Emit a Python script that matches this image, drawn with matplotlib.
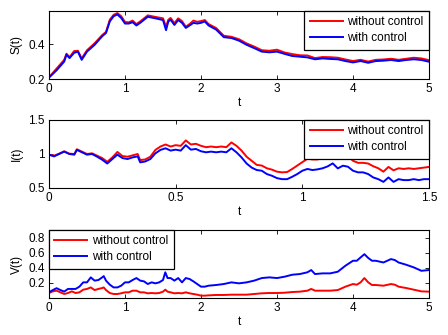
import matplotlib
matplotlib.use("Agg")
import matplotlib.pyplot as plt

plt.rcParams['font.family'] = ['Liberation Sans', 'DejaVu Sans']

# ---- S(t) panel data ----
t_S = [0, 0.1, 0.2, 0.23, 0.27, 0.33, 0.38, 0.43, 0.5, 0.6, 0.7, 0.75, 0.8, 0.85, 0.9, 0.95,
       1.0, 1.05, 1.1, 1.15, 1.2, 1.3, 1.4, 1.5, 1.54, 1.57, 1.6, 1.65, 1.7, 1.75, 1.8, 1.85,
       1.9, 1.95, 2.0, 2.05, 2.1, 2.2, 2.3, 2.4, 2.5, 2.6, 2.7, 2.8, 2.9, 3.0, 3.1, 3.2, 3.3,
       3.4, 3.5, 3.6, 3.7, 3.8, 3.9, 4.0, 4.1, 4.2, 4.3, 4.4, 4.5, 4.6, 4.7, 4.8, 4.9, 5.0]
S_with = [0.208, 0.25, 0.30, 0.34, 0.32, 0.35, 0.357, 0.31, 0.357, 0.396, 0.445, 0.464, 0.53,
          0.56, 0.57, 0.55, 0.518, 0.518, 0.526, 0.507, 0.522, 0.557, 0.548, 0.538, 0.48, 0.53,
          0.54, 0.51, 0.538, 0.522, 0.493, 0.507, 0.522, 0.518, 0.522, 0.53, 0.507, 0.483, 0.44,
          0.435, 0.42, 0.396, 0.377, 0.357, 0.353, 0.357, 0.344, 0.332, 0.328, 0.324, 0.313,
          0.318, 0.315, 0.313, 0.303, 0.295, 0.303, 0.293, 0.303, 0.305, 0.309, 0.303, 0.309,
          0.313, 0.309, 0.299]
S_without = [0.21, 0.26, 0.31, 0.345, 0.325, 0.36, 0.362, 0.318, 0.365, 0.405, 0.452, 0.47, 0.54,
             0.568, 0.578, 0.56, 0.527, 0.525, 0.535, 0.515, 0.53, 0.565, 0.556, 0.548, 0.5, 0.54,
             0.55, 0.52, 0.548, 0.532, 0.5, 0.515, 0.535, 0.528, 0.532, 0.538, 0.515, 0.492, 0.448,
             0.442, 0.428, 0.404, 0.386, 0.365, 0.362, 0.368, 0.352, 0.343, 0.336, 0.335, 0.32,
             0.326, 0.325, 0.322, 0.312, 0.303, 0.31, 0.3, 0.31, 0.312, 0.316, 0.31, 0.316,
             0.322, 0.318, 0.308]

# ---- I(t) panel data ----
t_I = [0, 0.02, 0.04, 0.06, 0.08, 0.1, 0.11, 0.13, 0.15, 0.17, 0.19, 0.21, 0.23, 0.25, 0.27,
       0.29, 0.31, 0.33, 0.35, 0.36, 0.38, 0.40, 0.42, 0.44, 0.46, 0.48, 0.50, 0.52, 0.54, 0.56,
       0.58, 0.60, 0.62, 0.64, 0.66, 0.68, 0.70, 0.72, 0.74, 0.76, 0.78, 0.80, 0.82, 0.84, 0.86,
       0.88, 0.90, 0.92, 0.94, 0.96, 0.98, 1.00, 1.02, 1.04, 1.06, 1.08, 1.10, 1.12, 1.14, 1.16,
       1.18, 1.20, 1.22, 1.24, 1.26, 1.28, 1.30, 1.32, 1.34, 1.36, 1.38, 1.40, 1.42, 1.44, 1.46,
       1.48, 1.50]
I_with = [0.99, 0.965, 1.0, 1.035, 1.0, 0.99, 1.06, 1.025, 0.99, 1.0, 0.96, 0.916, 0.86, 0.926,
          0.99, 0.94, 0.926, 0.95, 0.965, 0.877, 0.89, 0.926, 1.01, 1.06, 1.084, 1.05, 1.064,
          1.05, 1.13, 1.064, 1.074, 1.04, 1.025, 1.035, 1.025, 1.035, 1.025, 1.084, 1.025, 0.95,
          0.86, 0.80, 0.764, 0.754, 0.705, 0.68, 0.645, 0.63, 0.63, 0.665, 0.705, 0.754, 0.78,
          0.764, 0.774, 0.79, 0.818, 0.862, 0.788, 0.828, 0.813, 0.754, 0.73, 0.73, 0.705, 0.655,
          0.63, 0.59, 0.655, 0.59, 0.63, 0.616, 0.616, 0.63, 0.616, 0.63, 0.63]
I_without = [0.99, 0.975, 1.005, 1.04, 1.005, 1.0, 1.07, 1.035, 1.0, 1.01, 0.975, 0.94, 0.885,
             0.95, 1.03, 0.97, 0.96, 0.98, 1.0, 0.91, 0.92, 0.96, 1.06, 1.11, 1.14, 1.11, 1.13,
             1.12, 1.2, 1.14, 1.15, 1.12, 1.1, 1.11, 1.1, 1.11, 1.1, 1.17, 1.12, 1.05, 0.96, 0.9,
             0.84, 0.83, 0.79, 0.77, 0.74, 0.73, 0.735, 0.78, 0.83, 0.88, 0.93, 0.92, 0.92, 0.94,
             0.97, 1.0, 0.95, 0.99, 0.97, 0.9, 0.87, 0.87, 0.86, 0.82, 0.79, 0.74, 0.81, 0.76,
             0.79, 0.78, 0.79, 0.78, 0.79, 0.8, 0.81]

# ---- V(t) panel data ----
t_V = [0, 0.05, 0.1, 0.15, 0.2, 0.25, 0.3, 0.35, 0.4, 0.45, 0.5, 0.55, 0.6, 0.65, 0.7, 0.72,
       0.75, 0.8, 0.85, 0.9, 0.95, 1.0, 1.05, 1.1, 1.15, 1.2, 1.25, 1.3, 1.35, 1.4, 1.45, 1.5,
       1.53, 1.56, 1.6, 1.65, 1.7, 1.75, 1.8, 1.85, 1.9, 1.95, 2.0, 2.05, 2.1, 2.2, 2.3, 2.4,
       2.5, 2.6, 2.7, 2.8, 2.9, 3.0, 3.1, 3.2, 3.3, 3.4, 3.45, 3.5, 3.6, 3.7, 3.8, 3.9, 4.0,
       4.05, 4.1, 4.15, 4.2, 4.25, 4.3, 4.4, 4.5, 4.55, 4.6, 4.7, 4.8, 4.9, 5.0]
V_with = [0.075, 0.105, 0.13, 0.105, 0.085, 0.12, 0.12, 0.12, 0.15, 0.207, 0.207, 0.273, 0.23,
          0.238, 0.273, 0.29, 0.23, 0.176, 0.14, 0.14, 0.163, 0.207, 0.207, 0.238, 0.264, 0.23,
          0.22, 0.185, 0.207, 0.194, 0.207, 0.238, 0.34, 0.264, 0.264, 0.23, 0.264, 0.207,
          0.264, 0.251, 0.22, 0.185, 0.15, 0.15, 0.163, 0.172, 0.185, 0.207, 0.194, 0.207,
          0.23, 0.264, 0.273, 0.264, 0.282, 0.308, 0.317, 0.34, 0.37, 0.317, 0.326, 0.326,
          0.348, 0.427, 0.493, 0.493, 0.537, 0.58, 0.53, 0.493, 0.493, 0.47, 0.515, 0.502,
          0.47, 0.44, 0.405, 0.36, 0.37]
V_without = [0.066, 0.088, 0.097, 0.075, 0.053, 0.066, 0.088, 0.066, 0.075, 0.11, 0.12, 0.14,
             0.105, 0.12, 0.132, 0.14, 0.105, 0.066, 0.053, 0.053, 0.062, 0.075, 0.075, 0.097,
             0.097, 0.075, 0.075, 0.062, 0.066, 0.062, 0.066, 0.084, 0.11, 0.084, 0.075, 0.062,
             0.066, 0.062, 0.075, 0.062, 0.053, 0.044, 0.031, 0.031, 0.035, 0.04, 0.04, 0.044,
             0.044, 0.044, 0.053, 0.062, 0.066, 0.066, 0.07, 0.079, 0.084, 0.097, 0.12, 0.097,
             0.097, 0.097, 0.105, 0.15, 0.185, 0.176, 0.207, 0.264, 0.207, 0.172, 0.172, 0.163,
             0.185, 0.176, 0.15, 0.132, 0.11, 0.088, 0.084]

labels = ["without control", "with control"]

W, H = 448, 335
fig = plt.figure(figsize=(W / 100, H / 100), dpi=100)

def make_ax(top_px, bot_px):
    left, right = 49, 429
    return fig.add_axes([left / W, 1 - bot_px / H, (right - left) / W, (bot_px - top_px) / H])

ax1 = make_ax(11, 79)
ax2 = make_ax(120, 188)
ax3 = make_ax(230, 298)

fs = 8.5
lw = 1.4
red = '#ff0000'
blue = '#0000ff'

ax1.plot(t_S, S_without, color=red, lw=lw, label=labels[0])
ax1.plot(t_S, S_with, color=blue, lw=lw, label=labels[1])
ax1.set_xlim(0, 5)
ax1.set_ylim(0.2, 0.59)
ax1.set_yticks([0.2, 0.4])
ax1.set_xticks([0, 1, 2, 3, 4, 5])
ax1.set_ylabel("S(t)", fontsize=fs)

ax2.plot(t_I, I_without, color=red, lw=lw, label=labels[0])
ax2.plot(t_I, I_with, color=blue, lw=lw, label=labels[1])
ax2.set_xlim(0, 1.5)
ax2.set_ylim(0.5, 1.5)
ax2.set_yticks([0.5, 1, 1.5])
ax2.set_yticklabels(["0.5", "1", "1.5"])
ax2.set_xticks([0, 0.5, 1, 1.5])
ax2.set_xticklabels(["0", "0.5", "1", "1.5"])
ax2.set_ylabel("I(t)", fontsize=fs)

ax3.plot(t_V, V_without, color=red, lw=lw, label=labels[0])
ax3.plot(t_V, V_with, color=blue, lw=lw, label=labels[1])
ax3.set_xlim(0, 5)
ax3.set_ylim(0, 0.9)
ax3.set_yticks([0.2, 0.4, 0.6, 0.8])
ax3.set_xticks([0, 1, 2, 3, 4, 5])
ax3.set_ylabel("V(t)", fontsize=fs)

for ax, loc in [(ax1, 'upper right'), (ax2, 'upper right'), (ax3, 'upper left')]:
    ax.set_xlabel("t", fontsize=fs, labelpad=1)
    ax.tick_params(direction='in', top=True, right=True, labelsize=fs, length=3, width=0.6, pad=3)
    for s in ax.spines.values():
        s.set_linewidth(0.8)
    leg = ax.legend(loc=loc, fontsize=fs, borderaxespad=0, fancybox=False, framealpha=1,
                    edgecolor='black', handlelength=2.8, handletextpad=0.4, borderpad=0.45,
                    labelspacing=0.35)
    leg.get_frame().set_linewidth(0.9)

fig.savefig("out.png", dpi=100)
